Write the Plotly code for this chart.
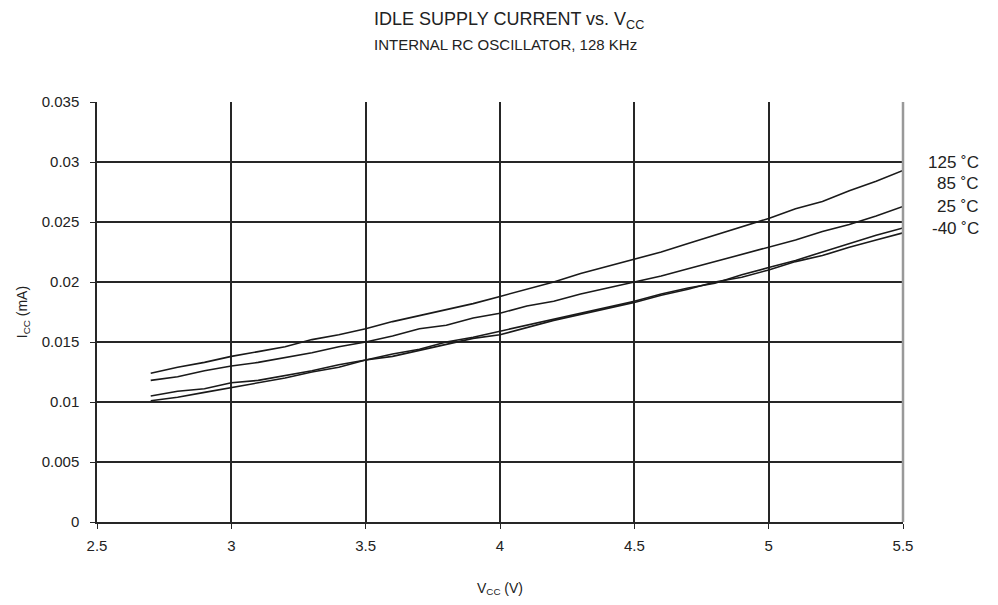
import plotly.graph_objects as go

vcc = [2.7, 2.8, 2.9, 3.0, 3.1, 3.2, 3.3, 3.4, 3.5, 3.6, 3.7, 3.8, 3.9, 4.0, 4.1,
       4.2, 4.3, 4.4, 4.5, 4.6, 4.7, 4.8, 4.9, 5.0, 5.1, 5.2, 5.3, 5.4, 5.5]

icc_125 = [0.0124, 0.0129, 0.0133, 0.0138, 0.0142, 0.0146, 0.0152, 0.0156, 0.0161, 0.0167,
           0.0172, 0.0177, 0.0182, 0.0188, 0.0194, 0.0200, 0.0207, 0.0213, 0.0219, 0.0225,
           0.0232, 0.0239, 0.0246, 0.0253, 0.0261, 0.0267, 0.0276, 0.0284, 0.0293]
icc_85 = [0.0118, 0.0121, 0.0126, 0.0130, 0.0133, 0.0137, 0.0141, 0.0146, 0.0150, 0.0155,
          0.0161, 0.0164, 0.0170, 0.0174, 0.0180, 0.0184, 0.0190, 0.0195, 0.0200, 0.0205,
          0.0211, 0.0217, 0.0223, 0.0229, 0.0235, 0.0242, 0.0248, 0.0255, 0.0263]
icc_25 = [0.0105, 0.0109, 0.0111, 0.0116, 0.0118, 0.0122, 0.0126, 0.0131, 0.0135, 0.0140,
          0.0144, 0.0150, 0.0154, 0.0159, 0.0164, 0.0169, 0.0174, 0.0179, 0.0184, 0.0190,
          0.0195, 0.0199, 0.0206, 0.0212, 0.0218, 0.0225, 0.0232, 0.0239, 0.0245]
icc_m40 = [0.0101, 0.0104, 0.0108, 0.0112, 0.0116, 0.0120, 0.0125, 0.0129, 0.0135, 0.0138,
           0.0143, 0.0148, 0.0153, 0.0156, 0.0162, 0.0168, 0.0173, 0.0178, 0.0183, 0.0189,
           0.0194, 0.0200, 0.0204, 0.0210, 0.0217, 0.0222, 0.0229, 0.0235, 0.0241]

series = [("125 ˚C", icc_125), ("85 ˚C", icc_85), ("25 ˚C", icc_25), ("-40 ˚C", icc_m40)]
label_y = [0.0300, 0.0282, 0.0263, 0.0245]

y_ticks = [0, 0.005, 0.01, 0.015, 0.02, 0.025, 0.03, 0.035]
y_tick_text = ["0", "0.005", "0.01", "0.015", "0.02", "0.025", "0.03", "0.035"]
x_ticks = [2.5, 3, 3.5, 4, 4.5, 5, 5.5]
x_tick_text = ["2.5", "3", "3.5", "4", "4.5", "5", "5.5"]

font = "Liberation Sans, Arial, sans-serif"
ink = "#222222"

fig = go.Figure()
for name, vals in series:
    fig.add_trace(go.Scatter(x=vcc, y=vals, mode="lines", name=name,
                             line=dict(color="#1a1a1a", width=1.6)))

# curve labels at the right edge
for (name, _), ly in zip(series, label_y):
    fig.add_annotation(x=1.097, y=ly, xref="paper", yref="y", text=name, showarrow=False,
                       xanchor="right", yanchor="middle", font=dict(size=17, color=ink))

fig.add_annotation(text="IDLE SUPPLY CURRENT vs. V<sub>CC</sub>", x=0.511, y=1.193,
                   xref="paper", yref="paper", showarrow=False, xanchor="center",
                   yanchor="middle", font=dict(size=18, color=ink))
fig.add_annotation(text="INTERNAL RC OSCILLATOR, 128 KHz", x=0.507, y=1.138,
                   xref="paper", yref="paper", showarrow=False, xanchor="center",
                   yanchor="middle", font=dict(size=15, color=ink))

# right border of the plot area is a lighter grey
fig.add_shape(type="line", xref="paper", yref="paper", x0=1, x1=1, y0=0, y1=1,
              line=dict(color="#999999", width=2.5))

fig.update_layout(
    width=990,
    height=597,
    margin=dict(l=89, r=95, t=94, b=83),
    paper_bgcolor="white",
    plot_bgcolor="white",
    showlegend=False,
    font=dict(family=font, color=ink, size=15),
)

fig.update_xaxes(
    range=[2.5, 5.5], tickvals=x_ticks, ticktext=x_tick_text,
    showgrid=True, gridcolor="#262626", gridwidth=1.5,
    showline=True, linecolor="#262626", linewidth=1.5,
    ticks="outside", ticklen=5, tickcolor="#262626", zeroline=False,
    tickfont=dict(size=15, color=ink), ticklabelstandoff=4,
    title=dict(text="V<sub>CC</sub> (V)", font=dict(size=14, color=ink), standoff=30),
)
fig.update_yaxes(
    range=[0, 0.035], tickvals=y_ticks, ticktext=y_tick_text,
    showgrid=True, gridcolor="#262626", gridwidth=1.5,
    showline=True, linecolor="#262626", linewidth=1.5,
    ticks="outside", ticklen=5, tickcolor="#262626", zeroline=False,
    tickfont=dict(size=15, color=ink), ticklabelstandoff=8,
    title=dict(text="I<sub>CC</sub> (mA)", font=dict(size=14, color=ink), standoff=11),
)

fig.write_html("out.html")
